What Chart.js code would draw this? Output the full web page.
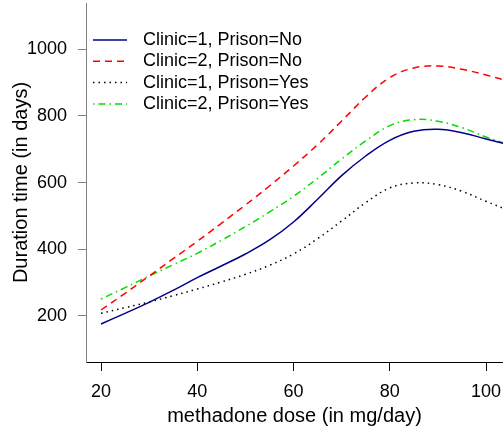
<!DOCTYPE html>
<html>
<head>
<meta charset="utf-8">
<script src="https://cdn.jsdelivr.net/npm/chart.js@4.4.1/dist/chart.umd.min.js"></script>
<style>
html,body{margin:0;padding:0;background:#fff;}
#wrap{width:503px;height:429px;}
</style>
</head>
<body>
<div id="wrap"><canvas id="c" width="503" height="429"></canvas></div>
<script>
// ---- data ----
const doses = [20,25,30,35,40,45,50,55,60,65,70,75,80,85,90,95,100,105];
const clinic1PrisonNo  = [176,208,241,277,315,350,386,428,482,550,621,680,727,754,760,750,731,713];
const clinic2PrisonNo  = [218,268,320,372,424,478,533,590,650,714,785,857,915,944,950,940,923,903];
const clinic1PrisonYes = [208,225,242,261,281,302,325,352,386,432,485,540,584,599,594,574,544,515];
const clinic2PrisonYes = [251,285,320,354,388,427,468,512,559,613,671,725,771,789,784,765,737,712];
const seriesLabels = ['Clinic=1, Prison=No','Clinic=2, Prison=No','Clinic=1, Prison=Yes','Clinic=2, Prison=Yes'];
const xTicks = [20,40,60,80,100];
const yTicks = [200,400,600,800,1000];

const FONT = "'Liberation Sans', Arial, Helvetica, sans-serif";
Chart.defaults.font.family = FONT;
Chart.defaults.color = '#000';

function pts(ys){ return doses.map((d,i)=>({x:d,y:ys[i]})); }

const styles = [
  {color:'#00008B', dash:[]},
  {color:'#FF0000', dash:[7,5]},
  {color:'#000000', dash:[1.5,4]},
  {color:'#00DD00', dash:[1.5,4,7,4]}
];
const allSeries = [clinic1PrisonNo, clinic2PrisonNo, clinic1PrisonYes, clinic2PrisonYes];

const legendPlugin = {
  id:'rLegend',
  afterDatasetsDraw(chart){
    const {ctx, chartArea} = chart;
    ctx.save();
    chart.data.datasets.forEach((ds,i)=>{
      const y = chartArea.top + 37 + i*21.3;
      const x0 = chartArea.left + 7;
      ctx.beginPath();
      ctx.setLineDash(ds.borderDash || []);
      ctx.strokeStyle = ds.borderColor;
      ctx.lineWidth = ds.borderWidth;
      ctx.moveTo(x0, y);
      ctx.lineTo(x0 + 34, y);
      ctx.stroke();
      ctx.setLineDash([]);
      ctx.fillStyle = '#000';
      ctx.font = "18px " + FONT;
      ctx.textBaseline = 'middle';
      ctx.textAlign = 'left';
      ctx.fillText(ds.label, x0 + 50, y);
    });
    ctx.restore();
  }
};

new Chart(document.getElementById('c'), {
  type:'line',
  data:{
    datasets: allSeries.map((s,i)=>({
      label: seriesLabels[i],
      data: pts(s),
      borderColor: styles[i].color,
      borderDash: styles[i].dash,
      borderWidth: 1.5,
      pointRadius: 0,
      fill:false,
      tension:0.4
    }))
  },
  options:{
    responsive:false,
    animation:false,
    devicePixelRatio:1,
    layout:{padding:{top:3,left:0,right:0,bottom:0}},
    plugins:{legend:{display:false}, tooltip:{enabled:false}},
    scales:{
      x:{
        type:'linear', min:16.88, max:103.53,
        afterBuildTicks: s => { s.ticks = xTicks.map(v=>({value:v})); },
        afterFit: s => { s.height = 67; s.paddingLeft = 0; s.paddingRight = 0; },
        grid:{display:true, drawOnChartArea:false, drawTicks:true, tickLength:9, color:'#000', lineWidth:1},
        border:{display:true, color:'#000', width:1},
        ticks:{color:'#000', font:{size:18}, padding:10, maxRotation:0, autoSkip:false, callback:v=>String(v)},
        title:{display:true, text:'methadone dose (in mg/day)', color:'#000', font:{size:20}, padding:{top:0,bottom:1}}
      },
      y:{
        type:'linear', min:62, max:1138.9,
        afterBuildTicks: s => { s.ticks = yTicks.map(v=>({value:v})); },
        afterFit: s => { s.width = 86; s.paddingTop = 0; s.paddingBottom = 0; },
        grid:{display:true, drawOnChartArea:false, drawTicks:true, tickLength:8, color:'#808080', lineWidth:1},
        border:{display:true, color:'#808080', width:1},
        ticks:{color:'#000', font:{size:18}, padding:11, autoSkip:false, callback:v=>String(v)},
        title:{display:true, text:'Duration time (in days)', color:'#000', font:{size:20}, padding:{top:9,bottom:0}}
      }
    }
  },
  plugins:[legendPlugin]
});
</script>
</body>
</html>
